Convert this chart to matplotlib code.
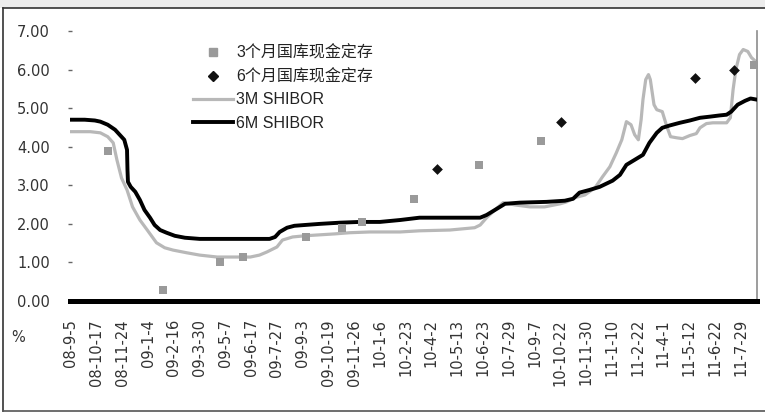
import matplotlib
matplotlib.use("Agg")
import matplotlib.pyplot as plt
from matplotlib.lines import Line2D
from matplotlib.patches import Rectangle

plt.rcParams["font.family"] = ["Liberation Sans", "Noto Sans CJK SC", "DejaVu Sans"]

# eixo x em dias úteis desde o início da série; rótulo a cada 28 dias
DIAS_ROTULO = 28
ROTULOS = [
    "08-9-5", "08-10-17", "08-11-24", "09-1-4", "09-2-16", "09-3-30",
    "09-5-7", "09-6-17", "09-7-27", "09-9-3", "09-10-19", "09-11-26",
    "10-1-6", "10-2-23", "10-4-2", "10-5-13", "10-6-23", "10-7-29",
    "10-9-7", "10-10-22", "10-11-30", "11-1-10", "11-2-22", "11-4-1",
    "11-5-12", "11-6-22", "11-7-29",
]

# 3M SHIBOR (cinza)
dia_3m = [0, 21, 32, 40, 46, 50, 55, 61, 67, 75, 83, 93, 102, 111, 126, 140,
          159, 178, 195, 205, 213, 224, 230, 241, 254, 267, 287, 303, 325, 358,
          379, 412, 439, 445, 452, 461, 470, 483, 499, 515, 532, 539, 548, 559,
          570, 578, 586, 593, 599, 604, 609, 613, 617, 620, 622, 625, 628, 630,
          634, 637, 643, 648, 652, 659, 665, 673, 680, 684, 691, 698, 705, 713,
          717, 720, 723, 727, 731, 736, 740, 746]
shibor_3m = [4.39, 4.39, 4.36, 4.26, 4.10, 3.66, 3.19, 2.88, 2.44, 2.10, 1.84,
             1.51, 1.38, 1.32, 1.25, 1.19, 1.14, 1.14, 1.14, 1.19, 1.27, 1.40,
             1.58, 1.66, 1.69, 1.71, 1.74, 1.77, 1.79, 1.79, 1.82, 1.84, 1.90,
             1.97, 2.16, 2.36, 2.55, 2.49, 2.44, 2.44, 2.52, 2.57, 2.68, 2.75,
             2.94, 3.22, 3.48, 3.84, 4.18, 4.65, 4.57, 4.31, 4.18, 4.70, 5.22,
             5.74, 5.87, 5.74, 5.09, 4.96, 4.91, 4.52, 4.26, 4.23, 4.21, 4.29,
             4.34, 4.49, 4.60, 4.62, 4.62, 4.62, 4.75, 5.48, 6.00, 6.39, 6.52,
             6.47, 6.31, 6.18]

# 6M SHIBOR (preta)
dia_6m = [0, 15, 26, 32, 40, 48, 53, 58, 61, 61.5, 62, 65, 70, 75, 80, 86, 91,
          97, 104, 113, 124, 140, 173, 205, 216, 222, 227, 235, 243, 254, 271,
          292, 314, 336, 358, 379, 412, 445, 452, 461, 472, 488, 517, 537, 546,
          553, 564, 575, 589, 597, 604, 613, 622, 629, 637, 643, 651, 662, 673,
          684, 695, 705, 713, 718, 725, 733, 739, 746]
shibor_6m = [4.70, 4.70, 4.68, 4.65, 4.57, 4.44, 4.31, 4.18, 3.92, 3.40, 3.09,
             2.96, 2.83, 2.62, 2.36, 2.16, 1.97, 1.84, 1.77, 1.69, 1.64, 1.61,
             1.61, 1.61, 1.61, 1.66, 1.79, 1.90, 1.95, 1.97, 2.00, 2.03, 2.05,
             2.05, 2.10, 2.16, 2.16, 2.16, 2.23, 2.36, 2.52, 2.55, 2.57, 2.60,
             2.65, 2.81, 2.88, 2.96, 3.12, 3.27, 3.53, 3.66, 3.79, 4.10, 4.36,
             4.49, 4.55, 4.62, 4.68, 4.75, 4.78, 4.81, 4.83, 4.91, 5.09, 5.19,
             5.25, 5.22]

# operações de depósito do caixa do tesouro
dia_3m_dep = [40, 100, 162, 187, 256, 295, 317, 373, 444, 511, 743]
taxa_3m_dep = [3.88, 0.29, 1.02, 1.14, 1.67, 1.90, 2.06, 2.65, 3.52, 4.15, 6.12]
dia_6m_dep = [398, 533, 679, 721]
taxa_6m_dep = [3.42, 4.65, 5.77, 5.98]

NOMES = ["3个月国库现金定存", "6个月国库现金定存", "3M SHIBOR", "6M SHIBOR"]

CINZA = "#b8b8b8"
CINZA_PONTO = "#9a9a9a"
TEXTO = "#333333"

fig = plt.figure(figsize=(7.65, 4.13), dpi=100)
fig.patch.set_facecolor("white")

# faixa cinza no topo e moldura
fig.patches.append(Rectangle((0, 1 - 8 / 413), 1, 8 / 413, transform=fig.transFigure,
                             facecolor="#ececec", edgecolor="none", zorder=0))
fig.add_artist(Line2D([3 / 765, 1], [1 - 8 / 413] * 2, color="#333333", lw=1.2))
fig.add_artist(Line2D([3 / 765] * 2, [1 - 411 / 413, 1 - 8 / 413], color="#333333", lw=1.2))
fig.add_artist(Line2D([3 / 765, 1], [1 - 411 / 413] * 2, color="#555555", lw=1.2))

ax = fig.add_axes([70 / 765, 1 - 301 / 413, 687 / 765, 270 / 413])
ax.set_xlim(-1, 746)
ax.set_ylim(0, 7)

ax.plot(dia_3m, shibor_3m, color=CINZA, lw=2.3, zorder=2)
ax.plot(dia_6m, shibor_6m, color="black", lw=2.8, zorder=3)
ax.scatter(dia_3m_dep, taxa_3m_dep, marker="s", s=30, color=CINZA_PONTO, zorder=4,
           linewidths=0)
ax.scatter(dia_6m_dep, taxa_6m_dep, marker="D", s=30, color="#111111", zorder=5,
           linewidths=0)

for lado in ("top", "left"):
    ax.spines[lado].set_visible(False)
ax.spines["right"].set_color("#8c8c8c")
ax.spines["right"].set_linewidth(1.2)
ax.spines["bottom"].set_color("black")
ax.spines["bottom"].set_linewidth(3.6)
ax.spines["bottom"].set_zorder(6)

ax.set_yticks(range(0, 8))
ax.set_yticklabels([f"{v:.2f}" for v in range(0, 8)], family="DejaVu Sans")
ax.tick_params(axis="y", length=3, width=1, color="#666666", direction="inout",
               pad=13, labelsize=10.5, labelcolor=TEXTO)

ax.set_xticks([i * DIAS_ROTULO for i in range(len(ROTULOS))])
ax.set_xticklabels(ROTULOS, rotation=90, va="top", ha="center", family="DejaVu Sans")
ax.tick_params(axis="x", length=0, pad=13, labelsize=10.5, labelcolor=TEXTO)

fig.text(18 / 765, 1 - 338 / 413, "%", fontsize=10.5, color=TEXTO,
         family="DejaVu Sans", ha="center", va="center")

alcas = [
    Line2D([], [], linestyle="none", marker="s", markersize=5.5, color=CINZA_PONTO),
    Line2D([], [], linestyle="none", marker="D", markersize=5.5, color="#111111"),
    Line2D([], [], color=CINZA, lw=2.3),
    Line2D([], [], color="black", lw=2.8),
]
fig.legend(alcas, NOMES, loc="upper left", bbox_to_anchor=(193 / 765, 1 - 45 / 413),
           frameon=False, fontsize=11.5, handlelength=2.5, handletextpad=0.2,
           labelspacing=0.52, borderpad=0, borderaxespad=0, labelcolor="#222222")

fig.savefig("out.png", dpi=100)
